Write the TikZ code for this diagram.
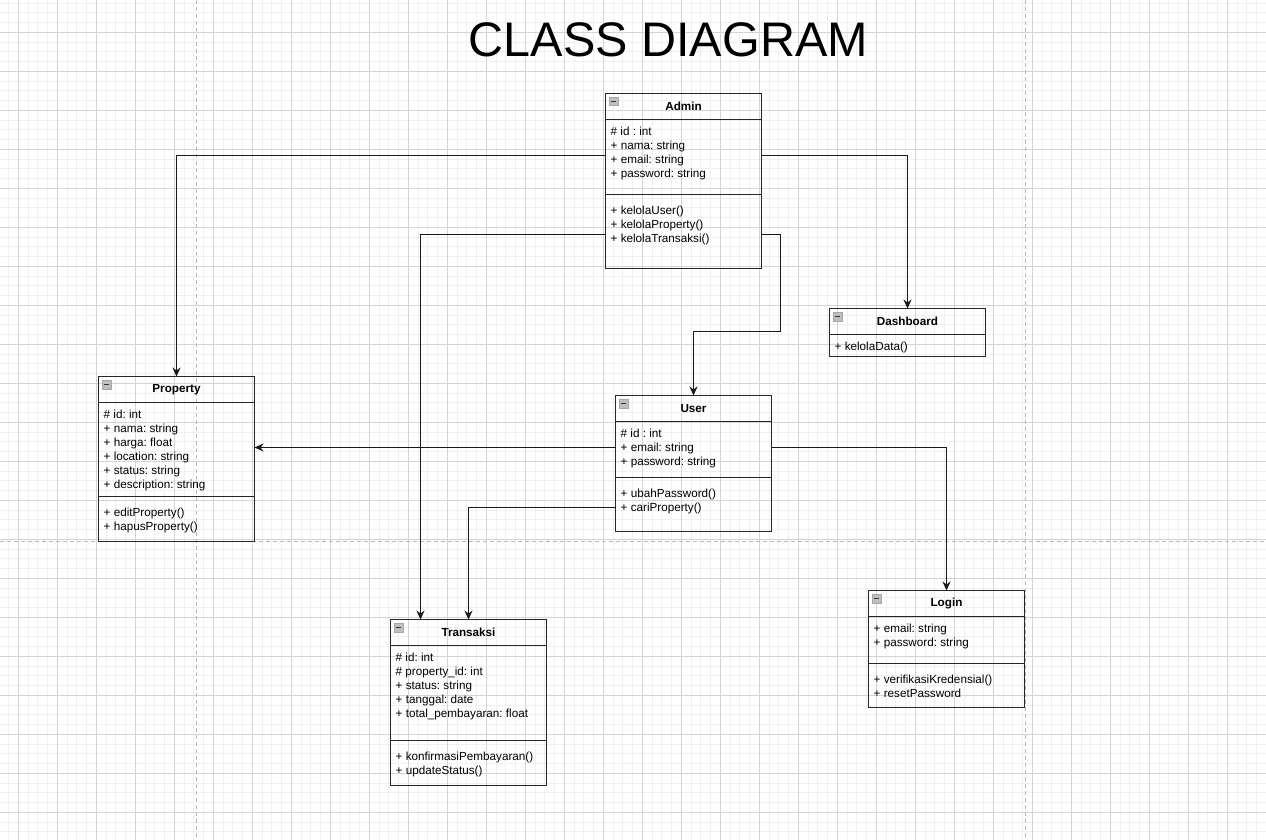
\documentclass[tikz,border=0pt]{standalone}
\usepackage{fontspec}
\setmainfont{Liberation Sans}
\usetikzlibrary{positioning,arrows.meta}

\begin{document}
\begin{tikzpicture}[x=1pt,y=-1pt]
  \tikzstyle{classhead}=[draw=black!85, line width=1pt, outer sep=0pt, inner sep=0pt, minimum width=156pt, minimum height=26pt, font=\fontsize{11.7}{14}\selectfont\bfseries]
  \tikzstyle{classpart}=[draw=black!85, line width=1pt, outer sep=0pt, inner sep=0pt, minimum width=156pt]
  \tikzstyle{members}=[inner sep=0pt, align=left, font=\fontsize{11.7}{14}\selectfont\frenchspacing]
  \tikzstyle{collapse}=[draw=black!35, fill=black!25, line width=0.6pt, minimum size=8.5pt, inner sep=0pt,
    path picture={\draw[black!80, line width=1.5pt] ([xshift=1.5pt]path picture bounding box.west) -- ([xshift=-1.5pt]path picture bounding box.east);}]
  \tikzstyle{assoc}=[black!90, line width=1pt, -{Stealth[length=9pt, width=8pt, inset=3pt]}]

  \useasboundingbox (0,0) rectangle (1266,840);
  \fill[white] (0,0) rectangle (1266,840);

  % grid and page breaks
  \begin{scope}
    \clip (0,0) rectangle (1266,840);
    \foreach \i in {-2,...,128}
      \draw[black!6, line width=0.8pt] ({18.3+9.75*\i},0) -- ({18.3+9.75*\i},840);
    \foreach \j in {-4,...,83}
      \draw[black!6, line width=0.8pt] (0,{32.3+9.75*\j}) -- (1266,{32.3+9.75*\j});
    \foreach \i in {0,...,32}
      \draw[black!17, line width=0.8pt] ({18.3+39*\i},0) -- ({18.3+39*\i},840);
    \foreach \j in {-1,...,21}
      \draw[black!17, line width=0.8pt] (0,{32.3+39*\j}) -- (1266,{32.3+39*\j});
    \draw[black!28, line width=1pt, dash pattern=on 4pt off 3pt] (196,0) -- (196,840);
    \draw[black!28, line width=1pt, dash pattern=on 4pt off 3pt] (1025,0) -- (1025,840);
    \draw[black!28, line width=1pt, dash pattern=on 4pt off 3pt] (0,541) -- (1266,541);
  \end{scope}

  \node[anchor=base, font=\fontsize{48.5}{58}\selectfont] (title) at (668.4,56.7) {CLASS DIAGRAM};

  % Admin
  \node[classhead] (admin) at (683.5,106.5) {Admin};
  \node[classpart, minimum height=75pt, below=0pt of admin] (admin-attr) {};
  \node[classpart, minimum height=74pt, below=0pt of admin-attr] (admin-meth) {};
  \node[collapse, below right=3.5pt and 3.5pt of admin.north west] (admin-btn) {};
  \node[members, below right=7pt and 5pt of admin-attr.north west] (admin-attr-txt) {\# id : int\\+ nama: string\\+ email: string\\+ password: string};
  \node[members, below right=11.3pt and 5pt of admin-meth.north west] (admin-meth-txt) {+ kelolaUser()\\+ kelolaProperty()\\+ kelolaTransaksi()};

  % Property
  \node[classhead] (property) at (176.5,389.5) {Property};
  \node[classpart, minimum height=94pt, below=0pt of property] (property-attr) {};
  \node[classpart, minimum height=45pt, below=0pt of property-attr] (property-meth) {};
  \node[collapse, below right=3.5pt and 3.5pt of property.north west] (property-btn) {};
  \node[members, below right=7pt and 5pt of property-attr.north west] (property-attr-txt) {\# id: int\\+ nama: string\\+ harga: float\\+ location: string\\+ status: string\\+ description: string};
  \node[members, below right=11.3pt and 5pt of property-meth.north west] (property-meth-txt) {+ editProperty()\\+ hapusProperty()};

  % User
  \node[classhead] (user) at (693.5,408.5) {User};
  \node[classpart, minimum height=56pt, below=0pt of user] (user-attr) {};
  \node[classpart, minimum height=54pt, below=0pt of user-attr] (user-meth) {};
  \node[collapse, below right=3.5pt and 3.5pt of user.north west] (user-btn) {};
  \node[members, below right=7pt and 5pt of user-attr.north west] (user-attr-txt) {\# id : int\\+ email: string\\+ password: string};
  \node[members, below right=11.3pt and 5pt of user-meth.north west] (user-meth-txt) {+ ubahPassword()\\+ cariProperty()};

  % Transaksi
  \node[classhead] (transaksi) at (468.5,632.5) {Transaksi};
  \node[classpart, minimum height=95pt, below=0pt of transaksi] (transaksi-attr) {};
  \node[classpart, minimum height=45pt, below=0pt of transaksi-attr] (transaksi-meth) {};
  \node[collapse, below right=3.5pt and 3.5pt of transaksi.north west] (transaksi-btn) {};
  \node[members, below right=7pt and 5pt of transaksi-attr.north west] (transaksi-attr-txt) {\# id: int\\\# property\_id: int\\+ status: string\\+ tanggal: date\\+ total\_pembayaran: float};
  \node[members, below right=11.3pt and 5pt of transaksi-meth.north west] (transaksi-meth-txt) {+ konfirmasiPembayaran()\\+ updateStatus()};

  % Login
  \node[classhead] (login) at (946.5,603.5) {Login};
  \node[classpart, minimum height=47pt, below=0pt of login] (login-attr) {};
  \node[classpart, minimum height=44pt, below=0pt of login-attr] (login-meth) {};
  \node[collapse, below right=3.5pt and 3.5pt of login.north west] (login-btn) {};
  \node[members, below right=7pt and 5pt of login-attr.north west] (login-attr-txt) {+ email: string\\+ password: string};
  \node[members, below right=11.3pt and 5pt of login-meth.north west] (login-meth-txt) {+ verifikasiKredensial()\\+ resetPassword};

  % Dashboard
  \node[classhead] (dashboard) at (907.5,321.5) {Dashboard};
  \node[classpart, minimum height=22pt, below=0pt of dashboard] (dashboard-meth) {};
  \node[collapse, below right=3.5pt and 3.5pt of dashboard.north west] (dashboard-btn) {};
  \node[members, below right=7.5pt and 5pt of dashboard-meth.north west] (dashboard-meth-txt) {+ kelolaData()};

  % associations
  \draw[assoc] ([yshift=1.5pt]admin-attr.west) -| (property.north);
  \draw[assoc] ([yshift=1.5pt]admin-attr.east) -| (dashboard.north);
  \draw[assoc] ([yshift=-3pt]admin-meth.west) -| ([xshift=-48pt]transaksi.north);
  \draw[assoc] ([yshift=-3pt]admin-meth.east) -- ++(19,0) |- ([yshift=64pt]user.north) -- (user.north);
  \draw[assoc] ([yshift=2pt]user-attr.west) -- ([yshift=2pt]user-attr.west -| property.east);
  \draw[assoc] ([yshift=2pt]user-attr.east) -| (login.north);
  \draw[assoc] ([yshift=-3pt]user-meth.west) -| (transaksi.north);
\end{tikzpicture}
\end{document}
